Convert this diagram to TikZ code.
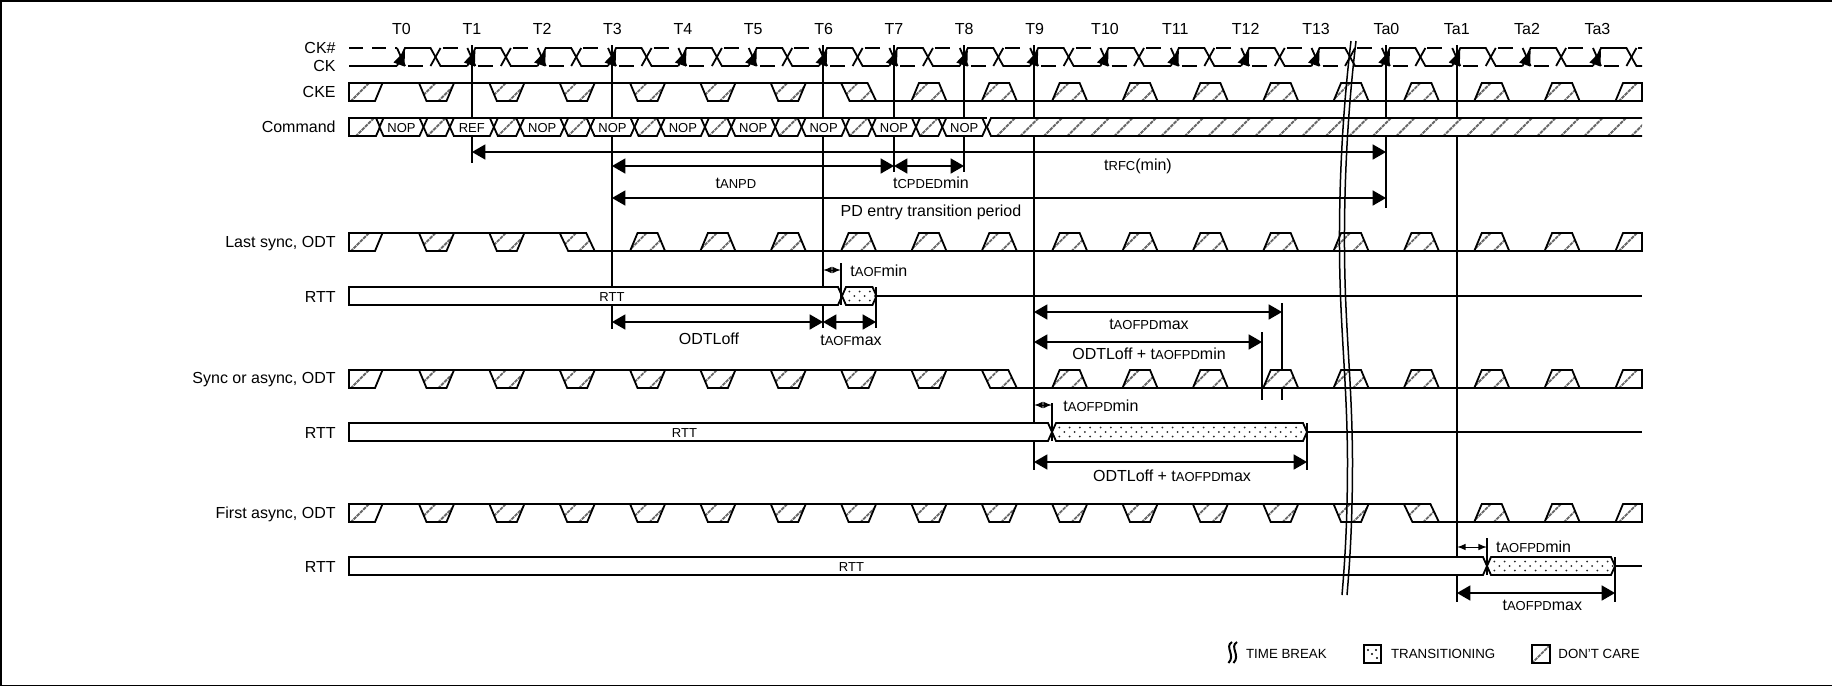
\documentclass[tikz,border=0pt]{standalone}
\usepackage{fontspec}
\setmainfont{Liberation Sans}
\usetikzlibrary{arrows}

\tikzset{wave/.style={line width=0.9pt,line join=miter},
  hatchline/.style={black!60,line width=0.9pt,dash pattern=on 1.8pt off 0.45pt},
  cutline/.style={line width=0.75pt},
  dim/.style={line width=0.8pt,<->},
  dimsmall/.style={line width=0.5pt,<->,>=latex},
  sig/.style={anchor=east,text height=6pt,text depth=0pt},
  tick/.style={text height=6pt,text depth=0pt},
  cell/.style={font=\fontsize{6.5}{7}\selectfont,text height=5pt,text depth=0pt},
  legendtxt/.style={anchor=west,font=\fontsize{6.65}{8}\selectfont,text height=5pt,text depth=0pt}}

\newcommand{\lowcap}[1]{{\fontsize{6.5}{7}\selectfont #1}}

% #1 path, #2 stroke positions, #3 middle height
\newcommand{\dontcare}[3]{%
  \fill[white] #1;
  \begin{scope}
    \clip #1;
    \foreach \h in {#2} \draw[hatchline] ({\h-9.5},{#3+9.5}) -- ({\h+9.5},{#3-9.5});
  \end{scope}
  \draw[wave] #1;}

% #1 top of the row, #2 cycle where the level changes
\newcommand{\odtrow}[2]{%
  \pgfmathsetmacro\ybot{#1+18}
  \pgfmathsetmacro\ymid{#1+9}
  \pgfmathsetmacro\csw{436.5+70.35*#2}
  \draw[wave] (349,#1) -- ({\csw-17.5},#1);
  \draw[wave] ({\csw+17.5},\ybot) -- (1642,\ybot);
  \foreach \n in {0,...,16}{
    \pgfmathsetmacro\c{436.5+70.35*\n}
    \ifnum\n<#2
      \dontcare{({\c-17.5},#1) -- ({\c+17.5},#1) -- ({\c+10},\ybot) -- ({\c-10},\ybot) -- cycle}{\c-10,\c+11}{\ymid}
    \else\ifnum\n=#2
      \dontcare{({\c-17.5},#1) -- ({\c+9},#1) -- ({\c+17.5},\ybot) -- ({\c-9},\ybot) -- cycle}{\c-10,\c+11}{\ymid}
    \else
      \dontcare{({\c-10},#1) -- ({\c+10},#1) -- ({\c+17.5},\ybot) -- ({\c-17.5},\ybot) -- cycle}{\c-10,\c+11}{\ymid}
    \fi\fi
  }
  % both cut ends
  \dontcare{(349,#1) -- (382.5,#1) -- (375,\ybot) -- (349,\ybot) -- cycle}{360}{\ymid}
  \dontcare{(1623,#1) -- (1642,#1) -- (1642,\ybot) -- (1615.5,\ybot) -- cycle}{1628}{\ymid}
}

% #1 top of the box, #2 point on the right
\newcommand{\rttbox}[2]{%
  \draw[wave,fill=white] (349,#1) -- ({#2-4},#1) -- (#2,{#1+9}) -- ({#2-4},{#1+18}) -- (349,{#1+18}) -- cycle;}

% #1 top, #2 left point, #3 right point, #4 how many dots
\newcommand{\transbox}[4]{%
  \draw[wave,fill=white] (#2,{#1+9}) -- ({#2+4},#1) -- ({#3-4},#1) -- (#3,{#1+9}) -- ({#3-4},{#1+18}) -- ({#2+4},{#1+18}) -- cycle;
  \foreach \i in {1,...,#4}{
    \fill[black!85] ({#2+10.3*\i-3},{#1+4.5}) circle (1);
    \fill[black!85] ({#2+10.3*\i+2},{#1+9}) circle (1);
    \fill[black!85] ({#2+10.3*\i-3},{#1+13.5}) circle (1);
  }}

\begin{document}
\begin{tikzpicture}[x=0.5pt,y=-0.5pt,>=triangle 60,every node/.style={inner sep=0pt,font=\fontsize{8}{10}\selectfont}]

\useasboundingbox (0,0) rectangle (1832,686);

%frame
\fill (0,0) rectangle (1832,2);
\fill (0,0) rectangle (1.5,686);
\fill (0,685) rectangle (1832,686);

%cycle names
\foreach \n/\lab in {0/T0,1/T1,2/T2,3/T3,4/T4,5/T5,6/T6,7/T7,8/T8,9/T9,10/T10,11/T11,12/T12,13/T13,14/Ta0,15/Ta1,16/Ta2,17/Ta3}{
  \coordinate (\lab) at ({round(401.3+70.35*\n)},0);
  \node[tick] (name\lab) at ({401.5+70.35*\n},28.5) {\lab};
}

%signal names
\node[sig] (lblCKn) at (336,47.5) {CK\#};
\node[sig] (lblCK) at (336,65.5) {CK};
\node[sig] (lblCKE) at (336,91) {CKE};
\node[sig] (lblCmd) at (336,126) {Command};
\node[sig] (lblLast) at (336,241) {Last sync, ODT};
\node[sig] (lblRttA) at (336,296) {RTT};
\node[sig] (lblSync) at (336,377) {Sync or async, ODT};
\node[sig] (lblRttB) at (336,432) {RTT};
\node[sig] (lblFirst) at (336,512.5) {First async, ODT};
\node[sig] (lblRttC) at (336,566) {RTT};

%long vertical lines
\foreach \t/\yend in {T1/163,T3/329,T6/328,T7/172,T8/172,T9/470,Ta0/208,Ta1/602}
  \draw[wave] (\t |- 0,45) -- (\t |- 0,\yend);

%clock
\begin{scope}
\clip (349,40) rectangle (1642,72);
\draw[wave] (349,66) -- (397,66);
\draw[wave,dash pattern=on 7pt off 4.5pt] (349,48) -- (397,48);
\foreach \n in {0,...,17}{
  \pgfmathsetmacro\t{401.5+70.35*\n}
  \draw[wave] (\t-4.5,66) -- (\t+3.5,48) -- (\t+29,48) -- (\t+39,66) -- (\t+65.85,66);
  \draw[wave] (\t-4.5,48) -- (\t+3.5,66);
  \draw[wave] (\t+29,66) -- (\t+39,48);
  \draw[wave] (\t+6.5,66) -- (\t+21.5,66);
  \draw[wave] (\t+41,48) -- (\t+56,48);
  \fill (\t+3.5,50.5) -- (\t+3,66.5) -- (\t-8,62.5) -- cycle;
}
\end{scope}

%CKE
\odtrow{83}{6}

%command
\draw[wave] (349,118) -- (1642,118);
\dontcare{(349,118) -- (376,118) -- (380,127) -- (376,136) -- (349,136) -- cycle}{365}{127}
\foreach \n/\cmd in {0/NOP,1/REF,2/NOP,3/NOP,4/NOP,5/NOP,6/NOP,7/NOP,8/NOP}{
  \pgfmathsetmacro\c{401.5+70.35*\n}
  \draw[wave,fill=white] (\c-22,127) -- (\c-18,118) -- (\c+18,118) -- (\c+22,127) -- (\c+18,136) -- (\c-18,136) -- cycle;
  \node[cell] (cmd\n) at (\c,127) {\cmd};
  \ifnum\n<8
    \dontcare{(\c+22,127) -- (\c+26,118) -- (\c+44.35,118) -- (\c+48.35,127) -- (\c+44.35,136) -- (\c+26,136) -- cycle}{\c+35}{127}
  \fi
}
\fill[white] (987,117) rectangle (1642,137);
\begin{scope}
\clip (987,127) -- (991,118) -- (1642,118) -- (1642,136) -- (991,136) -- cycle;
\foreach \h in {1006,1029.5,...,1660} \draw[hatchline] (\h-9.5,136.5) -- (\h+9.5,117.5);
\end{scope}
\draw[wave] (1642,118) -- (991,118) -- (987,127) -- (991,136) -- (1642,136);

%timing arrows up top
\draw[dim] (T1 |- 0,152) -- (Ta0 |- 0,152);
\draw[dim] (T3 |- 0,166) -- (T7 |- 0,166);
\draw[dim] (T7 |- 0,166) -- (T8 |- 0,166);
\draw[dim] (T3 |- 0,198) -- (Ta0 |- 0,198);
\node[tick] (lblRfc) at (1138,164) {t\lowcap{RFC}(min)};
\node[tick] (lblAnpd) at (736,182) {t\lowcap{ANPD}};
\node[tick] (lblCpded) at (931,182) {t\lowcap{CPDED}min};
\node[tick] (lblEntry) at (931,210) {PD entry transition period};

%last sync
\odtrow{233}{2}

%first RTT
\coordinate (aofMin) at (841,0);
\coordinate (aofMax) at (876,0);
\draw[wave] (aofMax |- 0,296) -- (1642,296);
\rttbox{287}{842}
\transbox{287}{842}{876.5}{3}
\node[cell] (rttA) at (T3 |- 0,296.5) {RTT};
\draw[wave] (aofMin |- 0,263) -- (aofMin |- 0,305);
\draw[wave] (aofMax |- 0,287) -- (aofMax |- 0,328);
\draw[dimsmall] (T6 |- 0,270) -- (aofMin |- 0,270);
\draw[dim] (T3 |- 0,322) -- (T6 |- 0,322);
\draw[dim] (T6 |- 0,322) -- (aofMax |- 0,322);
\node[tick,anchor=west] (lblAofMin) at (850,270) {t\lowcap{AOF}min};
\node[tick] (lblOdtA) at (709,338) {ODTLoff};
\node[tick] (lblAofMax) at (851,339) {t\lowcap{AOF}max};

%sync or async
\coordinate (pdMax) at (1282,0);
\coordinate (pdOdt) at (1262,0);
\draw[wave] (pdMax |- 0,303) -- (pdMax |- 0,400);
\draw[wave] (pdOdt |- 0,332) -- (pdOdt |- 0,400);
\odtrow{370}{8}
\draw[dim] (T9 |- 0,312) -- (pdMax |- 0,312);
\draw[dim] (T9 |- 0,342) -- (pdOdt |- 0,342);
\node[tick] (lblPdMax) at (1149,323) {t\lowcap{AOFPD}max};
\node[tick] (lblOdtB) at (1149,353) {ODTLoff + t\lowcap{AOFPD}min};

%second RTT
\coordinate (pdMinB) at (1052,0);
\coordinate (pdEndB) at (1307,0);
\draw[wave] (pdEndB |- 0,432) -- (1642,432);
\rttbox{423}{1052}
\transbox{423}{1052}{1307}{24}
\node[cell] (rttB) at (684.5,432.5) {RTT};
\draw[wave] (pdMinB |- 0,403) -- (pdMinB |- 0,441);
\draw[wave] (pdEndB |- 0,423) -- (pdEndB |- 0,470);
\draw[dimsmall] (T9 |- 0,405) -- (pdMinB |- 0,405);
\draw[dim] (T9 |- 0,462) -- (pdEndB |- 0,462);
\node[tick,anchor=west] (lblPdMinB) at (1063,405) {t\lowcap{AOFPD}min};
\node[tick] (lblOdtC) at (1172,475) {ODTLoff + t\lowcap{AOFPD}max};

%first async
\odtrow{504}{14}

%third RTT
\coordinate (pdMinC) at (1487,0);
\coordinate (pdEndC) at (1615,0);
\draw[wave] (pdEndC |- 0,566) -- (1642,566);
\rttbox{557}{1487}
\transbox{557}{1487}{1615}{12}
\node[cell] (rttC) at (851.5,566.5) {RTT};
\draw[wave] (pdMinC |- 0,538) -- (pdMinC |- 0,575);
\draw[wave] (pdEndC |- 0,557) -- (pdEndC |- 0,602);
\draw[dimsmall] (Ta1 |- 0,547) -- (pdMinC |- 0,547);
\draw[dim] (Ta1 |- 0,593) -- (pdEndC |- 0,593);
\node[tick,anchor=west] (lblPdMinC) at (1495.7,546) {t\lowcap{AOFPD}min};
\node[tick] (lblPdMaxC) at (1542.3,604) {t\lowcap{AOFPD}max};

%time break
\foreach \s in {0,2.5}
  \draw[cutline,xshift=\s pt] (1351,41) .. controls (1344,100) and (1339,170) .. (1339.5,250) .. controls (1340,330) and (1347,380) .. (1347.5,460) .. controls (1347.5,520) and (1345,560) .. (1342,595);

%legend
\foreach \s in {0,2.5}
  \draw[line width=1pt,xshift=\s pt] (1232,642) .. controls (1224,647) and (1236,655) .. (1228.5,663);
\node[legendtxt] (lgdBreak) at (1245.7,653) {TIME BREAK};
\draw[wave] (1364,645) rectangle (1381,663);
\fill (1368,650) circle (1.1);
\fill (1376,650) circle (1.1);
\fill (1372,654) circle (1.1);
\fill (1377,658) circle (1.1);
\node[legendtxt] (lgdTrans) at (1390.7,653) {TRANSITIONING};
\dontcare{(1532,645) -- (1550,645) -- (1550,663) -- (1532,663) -- cycle}{1541}{654}
\node[legendtxt] (lgdCare) at (1558,653) {DON'T CARE};

\end{tikzpicture}
\end{document}
